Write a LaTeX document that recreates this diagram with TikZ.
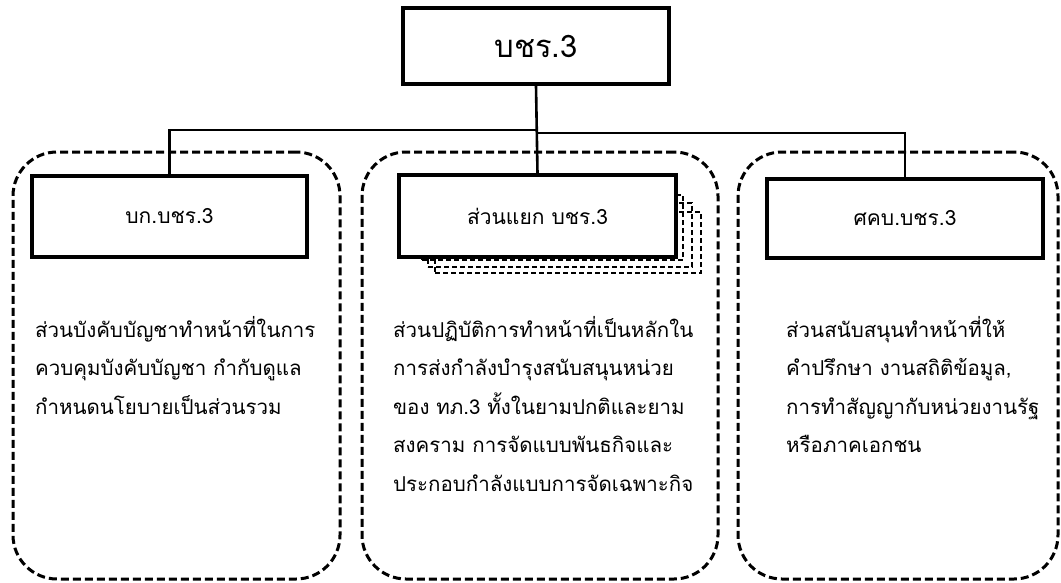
\documentclass[tikz,border=0pt]{standalone}
\usepackage{fontspec}
\newfontfamily\thai[Script=Thai]{Loma}
\begin{document}
\begin{tikzpicture}[x=1pt,y=-1pt,
  box/.style={draw, line width=3.2pt, fill=white, inner sep=0pt},
  conn/.style={line width=2.6pt},
  group/.style={draw, line width=3pt, dash pattern=on 8pt off 4pt, rounded corners=44pt, inner sep=0pt},
  shadowbox/.style={draw, line width=2pt, dash pattern=on 5pt off 3pt, inner sep=0pt},
  lbl/.style={font=\thai\fontsize{21}{26}\selectfont},
  toplbl/.style={font=\thai\fontsize{31}{36}\selectfont},
  body/.style={font=\thai\fontsize{20.5}{38.5}\selectfont, align=left, anchor=base west, inner sep=0pt}]
\useasboundingbox (0,0) rectangle (1061,582);
% dashed groups
\node[group, minimum width=327pt, minimum height=427pt] (g1) at (176.5,365.5) {};
\node[group, minimum width=356pt, minimum height=427pt] (g2) at (540,365.5) {};
\node[group, minimum width=320pt, minimum height=427pt] (g3) at (898,365.5) {};
% stacked shadows behind middle box
\node[shadowbox, minimum width=266pt, minimum height=61pt] (s3) at (568,242.5) {};
\node[shadowbox, minimum width=264pt, minimum height=64pt] (s2) at (560,235) {};
\node[shadowbox, minimum width=261pt, minimum height=65pt] (s1) at (552.5,227.5) {};
% boxes
\node[box, toplbl, minimum width=266pt, minimum height=76pt] (top) at (536,46) {บชร.3};
\node[box, lbl, minimum width=275pt, minimum height=81pt] (left) at (169.5,216.5) {บก.บชร.3};
\node[box, lbl, minimum width=277pt, minimum height=82pt] (mid) at (537.5,216) {ส่วนแยก บชร.3};
\node[box, lbl, minimum width=276pt, minimum height=79pt] (right) at (905,218.5) {ศคบ.บชร.3};
% connectors
\coordinate (jl) at (537,130);
\coordinate (jr) at (537,133);
\draw[conn] (top.south) -- (mid.north);
\draw[conn] (jl) -| (left.north);
\draw[conn] (jr) -| (right.north);
% body texts (anchored at the baseline of the last line)
\node[body] (t1) at (35,414) {ส่วนบังคับบัญชาทำหน้าที่ในการ\\ควบคุมบังคับบัญชา กำกับดูแล\\กำหนดนโยบายเป็นส่วนรวม};
\node[body] (t2) at (393,491) {ส่วนปฏิบัติการทำหน้าที่เป็นหลักใน\\การส่งกำลังบำรุงสนับสนุนหน่วย\\ของ ทภ.3 ทั้งในยามปกติและยาม\\สงคราม การจัดแบบพันธกิจและ\\ประกอบกำลังแบบการจัดเฉพาะกิจ};
\node[body] (t3) at (786,452.5) {ส่วนสนับสนุนทำหน้าที่ให้\\คำปรึกษา งานสถิติข้อมูล,\\การทำสัญญากับหน่วยงานรัฐ\\หรือภาคเอกชน};
\end{tikzpicture}
\end{document}
